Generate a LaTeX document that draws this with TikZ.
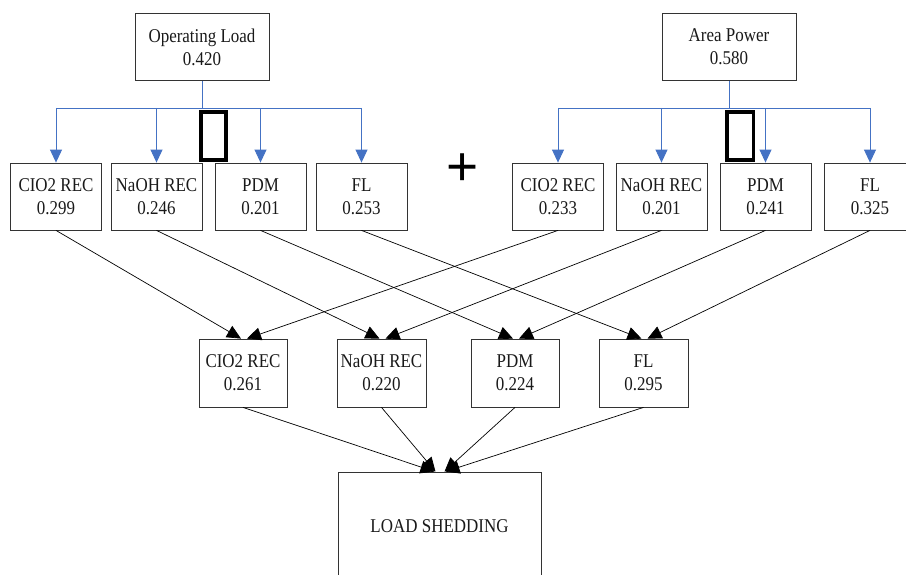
\documentclass[tikz,border=0pt]{standalone}
\usepackage{fontspec}
\setmainfont{Liberation Serif}
\setsansfont{Liberation Sans}
\usetikzlibrary{arrows.meta}
\definecolor{treeblue}{RGB}{68,114,196}
\newcommand\sqz[1]{\scalebox{0.87}[1]{#1}}
\begin{document}
\begin{tikzpicture}[x=1pt,y=-1pt,
  box/.style={draw=black!80, line width=0.8pt, minimum width=91pt, minimum height=67pt,
    inner sep=0pt, align=center, font=\fontsize{19.5}{23}\selectfont, text=black!90},
  tree/.style={draw=treeblue, line width=0.9pt},
  treearrow/.style={tree, -{Triangle[length=13pt,width=12pt]}},
  flow/.style={black, line width=0.7pt, -{Triangle[length=14pt,width=13pt]}},
  marker/.style={draw=black, line width=3.5pt, inner sep=0pt, minimum height=48pt}
]
\useasboundingbox (0,0) rectangle (906,575);
% top boxes
\node[box, minimum width=134pt] (ol) at (202,47) {\sqz{Operating Load}\\\sqz{0.420}};
\node[box, minimum width=134pt] (ap) at (729,47) {\sqz{Area Power}\\\sqz{0.580}};
% row 1
\node[box] (l1) at (56,196.5) {\sqz{CIO2 REC}\\\sqz{0.299}};
\node[box] (l2) at (156.5,196.5) {\sqz{NaOH REC}\\\sqz{0.246}};
\node[box] (l3) at (260.5,196.5) {\sqz{PDM}\\\sqz{0.201}};
\node[box] (l4) at (361.5,196.5) {\sqz{FL}\\\sqz{0.253}};
\node[box] (r1) at (558,196.5) {\sqz{CIO2 REC}\\\sqz{0.233}};
\node[box] (r2) at (661.5,196.5) {\sqz{NaOH REC}\\\sqz{0.201}};
\node[box] (r3) at (765.5,196.5) {\sqz{PDM}\\\sqz{0.241}};
\node[box] (r4) at (870,196.5) {\sqz{FL}\\\sqz{0.325}};
% plus
\node[font=\fontsize{55}{55}\sffamily, inner sep=0pt] (plus) at (463,169.5) {+};
% row 2
\node[box, minimum width=88pt, minimum height=68pt] (m1) at (243,373) {\sqz{CIO2 REC}\\\sqz{0.261}};
\node[box, minimum width=89pt, minimum height=68pt] (m2) at (381.5,373) {\sqz{NaOH REC}\\\sqz{0.220}};
\node[box, minimum width=88pt, minimum height=68pt] (m3) at (515,373) {\sqz{PDM}\\\sqz{0.224}};
\node[box, minimum width=89pt, minimum height=68pt] (m4) at (643.5,373) {\sqz{FL}\\\sqz{0.295}};
% load shedding
\node[box, minimum width=203pt, minimum height=108pt] (ls) at (439.5,526) {\sqz{LOAD SHEDDING}};
% blue trees
\coordinate (jl) at (202,108);
\coordinate (jr) at (729,108);
\draw[tree] (ol.south) -- (jl);
\draw[tree] (l1 |- jl) -- (l4 |- jl);
\foreach \n in {l1,l2,l3,l4} \draw[treearrow] (\n |- jl) -- (\n.north);
\draw[tree] (ap.south) -- (jr);
\draw[tree] (r1 |- jr) -- (r4 |- jr);
\foreach \n in {r1,r2,r3,r4} \draw[treearrow] (\n |- jr) -- (\n.north);
% markers
\node[marker, minimum width=25pt] (k1) at (213.3,135.8) {};
\node[marker, minimum width=26.5pt] (k2) at (740,135.8) {};
% flows row1 -> row2
\draw[flow] (l1.south) -- ([xshift=-2pt]m1.north);
\draw[flow] (r1.south) -- ([xshift=4pt]m1.north);
\draw[flow] (l2.south) -- ([xshift=-2pt]m2.north);
\draw[flow] (r2.south) -- ([xshift=4pt]m2.north);
\draw[flow] (l3.south) -- ([xshift=-2pt]m3.north);
\draw[flow] (r3.south) -- ([xshift=4pt]m3.north);
\draw[flow] (l4.south) -- ([xshift=-2pt]m4.north);
\draw[flow] (r4.south) -- ([xshift=4pt]m4.north);
% flows row2 -> load shedding
\draw[flow] (m1.south) -- ([xshift=-5pt]ls.north);
\draw[flow] (m2.south) -- ([xshift=-4pt]ls.north);
\draw[flow] (m3.south) -- ([xshift=5pt]ls.north);
\draw[flow] (m4.south) -- ([xshift=6pt]ls.north);
\end{tikzpicture}
\end{document}
